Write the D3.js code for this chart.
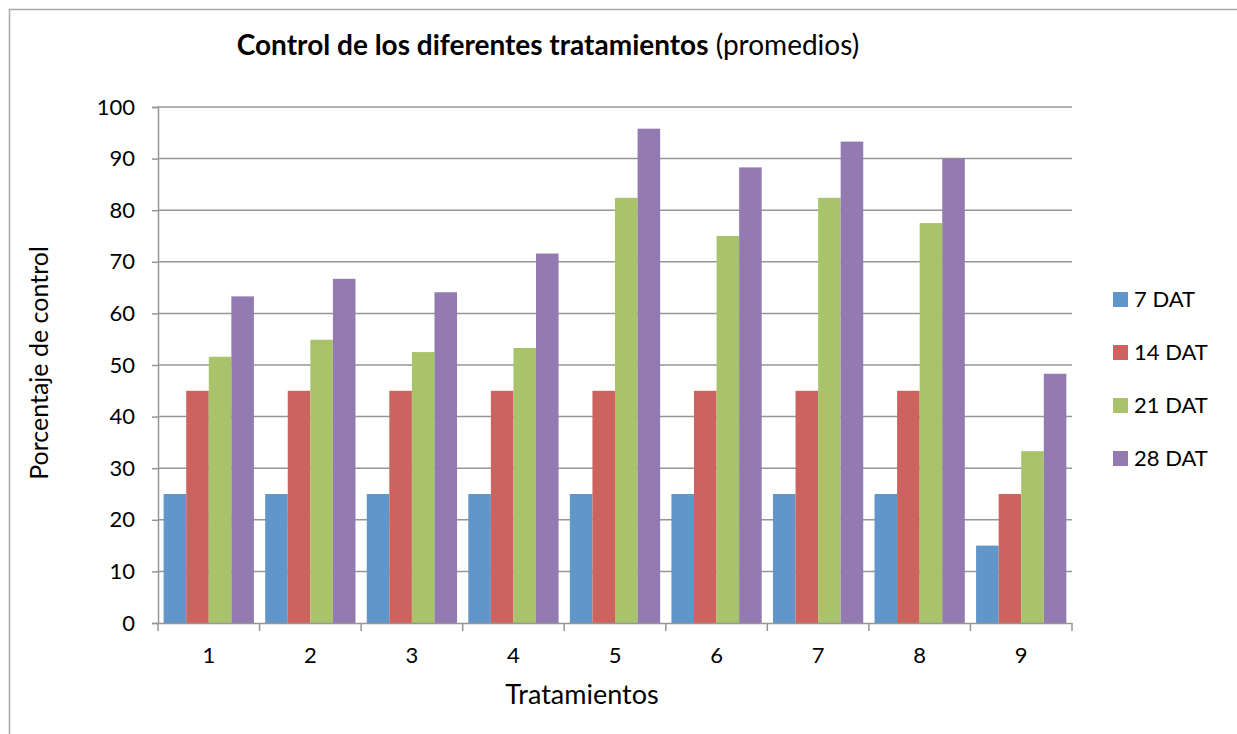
<!DOCTYPE html>
<html>
<head>
<meta charset="utf-8">
<script src="https://cdn.jsdelivr.net/npm/d3@7"></script>
<style>
  body { margin: 0; background: #fff; }
  text { font-family: Lato, "Open Sans", sans-serif; fill: #000; }
</style>
</head>
<body>
<div id="vis"></div>
<script>
const categories = ['1', '2', '3', '4', '5', '6', '7', '8', '9'];
const seriesNames = ['7 DAT', '14 DAT', '21 DAT', '28 DAT'];
const dat7 = [25, 25, 25, 25, 25, 25, 25, 25, 15];
const dat14 = [45, 45, 45, 45, 45, 45, 45, 45, 25];
const dat21 = [51.6, 54.9, 52.5, 53.3, 82.4, 75, 82.4, 77.5, 33.3];
const dat28 = [63.3, 66.7, 64.1, 71.6, 95.8, 88.3, 93.3, 90, 48.3];
const yTicks = [0, 10, 20, 30, 40, 50, 60, 70, 80, 90, 100];
const colors = ['#6096c9', '#cd635e', '#a9c36b', '#937bb1'];

const series = [dat7, dat14, dat21, dat28];

const width = 1237;
const height = 734;
const margin = { top: 107, left: 158, bottom: 111, right: 165 };

const svg = d3.select('#vis')
  .append('svg')
    .attr('width', width)
    .attr('height', height);

// chart frame (runs past the right and bottom edges)
svg.append('rect')
  .attr('x', 9.5).attr('y', 9.5)
  .attr('width', width + 20).attr('height', height + 20)
  .attr('fill', 'none')
  .attr('stroke', '#a6a6a6')
  .attr('stroke-width', 1.5);

const x = d3.scaleBand()
  .domain(categories)
  .range([margin.left, width - margin.right]);

const inner = d3.scaleBand()
  .domain(d3.range(series.length))
  .range([0, x.bandwidth()])
  .paddingOuter(0.25)
  .paddingInner(0);

const y = d3.scaleLinear()
  .domain([0, 100])
  .range([height - margin.bottom, margin.top]);

// gridlines
svg.append('g')
  .selectAll('line')
  .data(yTicks.filter(d => d > 0))
  .join('line')
    .attr('x1', margin.left)
    .attr('x2', width - margin.right)
    .attr('y1', d => y(d))
    .attr('y2', d => y(d))
    .attr('stroke', '#969696')
    .attr('stroke-width', 1.5);

// bars
series.forEach(function (vals, i) {
  svg.append('g')
    .selectAll('rect')
    .data(vals)
    .join('rect')
      .attr('x', (d, j) => x(categories[j]) + inner(i))
      .attr('y', d => y(d))
      .attr('width', inner.bandwidth())
      .attr('height', d => y(0) - y(d))
      .attr('fill', colors[i]);
});

// y axis
const yAxis = svg.append('g')
  .attr('transform', 'translate(' + margin.left + ',0)')
  .call(d3.axisLeft(y).tickValues(yTicks).tickSize(6).tickPadding(17));
yAxis.selectAll('text').style('font-size', '22px');

// x axis
const xAxis = svg.append('g')
  .attr('transform', 'translate(0,' + y(0) + ')')
  .call(d3.axisBottom(x).tickSize(0).tickPadding(24));
xAxis.selectAll('text').style('font-size', '22px');
xAxis.selectAll('.tick line').remove();
xAxis.selectAll('.sep')
  .data(categories.concat(['end']))
  .join('line')
    .attr('x1', (d, j) => margin.left + j * x.step())
    .attr('x2', (d, j) => margin.left + j * x.step())
    .attr('y1', 0)
    .attr('y2', 8)
    .attr('stroke', '#969696')
    .attr('stroke-width', 1.5);

svg.selectAll('.domain')
  .attr('stroke', '#969696')
  .attr('stroke-width', 1.5);
svg.selectAll('.tick line')
  .attr('stroke', '#969696')
  .attr('stroke-width', 1.5);

// title
const title = svg.append('text')
  .attr('x', 548)
  .attr('y', 55)
  .attr('text-anchor', 'middle')
  .style('font-size', '28px');
title.append('tspan').attr('font-weight', 'bold').text('Control de los diferentes tratamientos');
title.append('tspan').text(' (promedios)');

// axis titles
svg.append('text')
  .attr('transform', 'translate(48,' + 363 + ') rotate(-90)')
  .attr('text-anchor', 'middle')
  .style('font-size', '25px')
  .text('Porcentaje de control');

svg.append('text')
  .attr('x', 582)
  .attr('y', 704)
  .attr('text-anchor', 'middle')
  .style('font-size', '27px')
  .text('Tratamientos');

// legend
const legend = svg.append('g')
  .selectAll('g')
  .data(seriesNames)
  .join('g')
    .attr('transform', (d, i) => 'translate(1113,' + (292 + i * 53) + ')');
legend.append('rect')
  .attr('width', 15).attr('height', 15)
  .attr('fill', (d, i) => colors[i]);
legend.append('text')
  .attr('x', 21)
  .attr('y', 15)
  .style('font-size', '22px')
  .text(d => d);
</script>
</body>
</html>
